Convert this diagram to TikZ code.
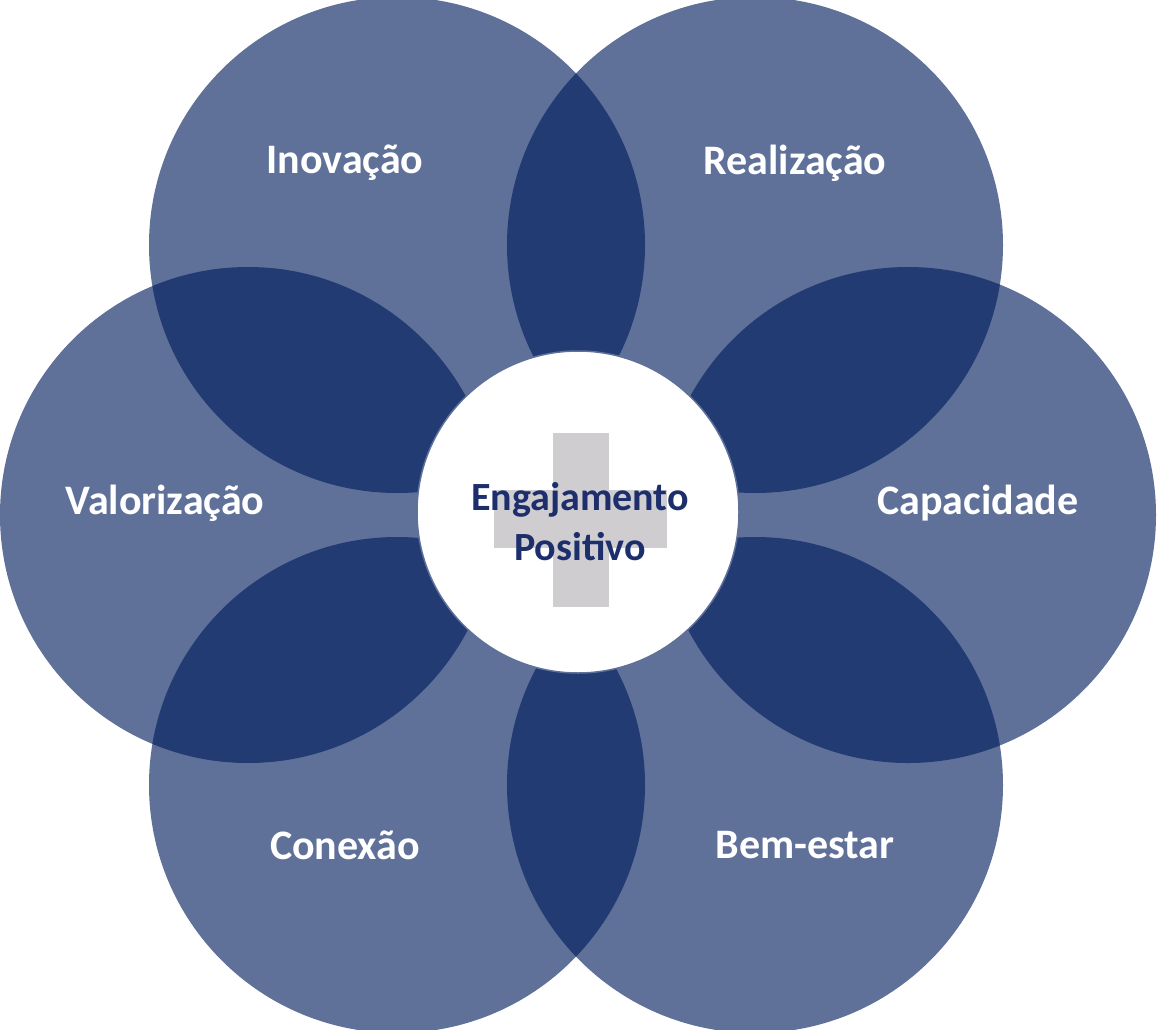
\documentclass[tikz,border=0pt]{standalone}
\usepackage{fontspec}
\setmainfont{Carlito}
\definecolor{petal}{HTML}{5F7099}
\definecolor{overlap}{HTML}{233B73}
\definecolor{crossg}{HTML}{CFCDCF}
\definecolor{navy}{HTML}{1C2E6B}
\begin{document}
\begin{tikzpicture}[x=1pt,y=-1pt,
  petaltext/.style={text=white,font=\bfseries\fontsize{42}{46}\selectfont},
  centertext/.style={text=navy,font=\bfseries\fontsize{40}{50}\selectfont,align=center}]
\useasboundingbox (0,0) rectangle (1157,1030);
\def\R{248}
\coordinate (tl) at (397,245);
\coordinate (tr) at (755,245);
\coordinate (r) at (908,515);
\coordinate (br) at (755,785);
\coordinate (bl) at (397,785);
\coordinate (l) at (248,515);
\foreach \c in {tl,tr,r,br,bl,l} \fill[petal] (\c) circle (\R);
\foreach \a/\b in {tl/tr,tr/r,r/br,br/bl,bl/l,l/tl}{
  \begin{scope}
    \clip (\a) circle (\R);
    \fill[overlap] (\b) circle (\R);
  \end{scope}}
\node[circle,minimum size=322pt,fill=white,draw=petal,line width=1.5pt] (c) at (578,512) {};
\fill[crossg] (553,433) rectangle (609,607);
\fill[crossg] (494,490) rectangle (667,548);
\node[centertext] (ct) at (580,522) {Engajamento\\Positivo};
\node[petaltext] (n1) at (345,163) {Inovação};
\node[petaltext] (n2) at (795,163) {Realização};
\node[petaltext] (n3) at (978,503) {Capacidade};
\node[petaltext] (n4) at (805,845) {Bem-estar};
\node[petaltext] (n5) at (345,845) {Conexão};
\node[petaltext] (n6) at (165,503) {Valorização};
\end{tikzpicture}
\end{document}
